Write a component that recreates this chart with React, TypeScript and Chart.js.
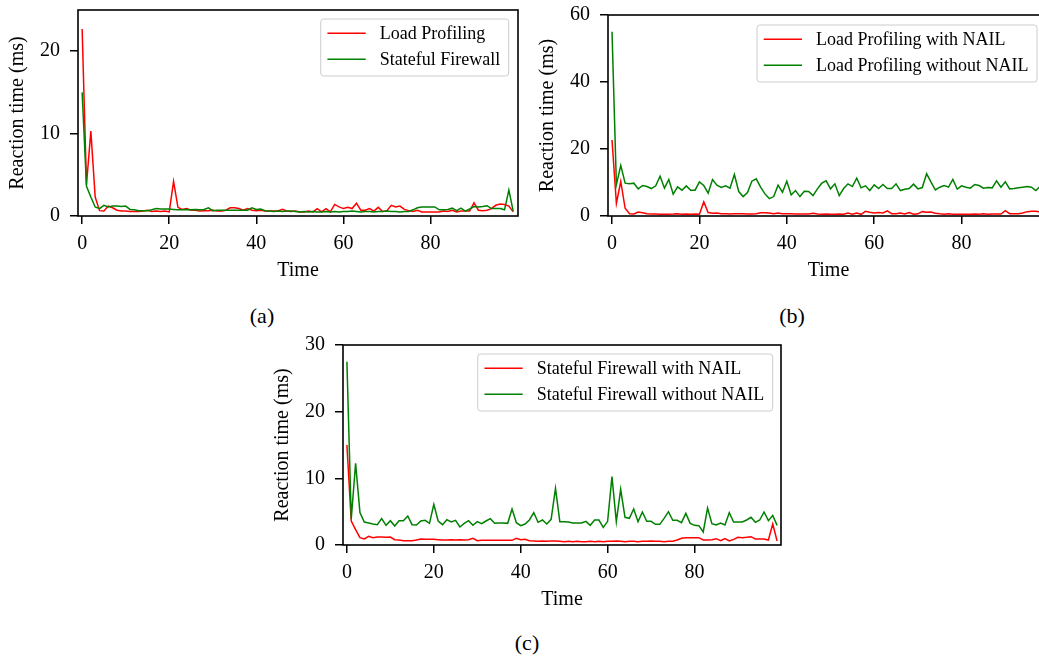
import React, { useEffect, useRef } from "react";
import { Chart, registerables } from "chart.js";

Chart.register(...registerables);

const TIME: number[] = Array.from({ length: 100 }, (_, i) => i);

const LOAD_PROFILING = [
  22.7, 3.8, 10.3, 2.3, 0.65, 0.6, 1.2, 1.0, 0.7, 0.6,
  0.6, 0.55, 0.55, 0.55, 0.6, 0.7, 0.55, 0.6, 0.55, 0.6,
  0.5, 4.2, 1.05, 0.8, 0.9, 0.7, 0.7, 0.6, 0.65, 0.65,
  0.7, 0.6, 0.6, 0.7, 1.0, 1.0, 0.9, 0.7, 0.9, 0.7,
  0.65, 0.7, 0.6, 0.6, 0.6, 0.6, 0.8, 0.6, 0.55, 0.6,
  0.5, 0.5, 0.6, 0.5, 0.9, 0.5, 0.9, 0.5, 1.4, 1.1,
  0.9, 1.05, 0.9, 1.55, 0.7, 0.7, 0.9, 0.6, 1.05, 0.55,
  0.65, 1.3, 1.1, 1.2, 0.8, 0.65, 0.55, 0.7, 0.5, 0.5,
  0.5, 0.5, 0.5, 0.6, 0.55, 0.7, 0.5, 0.6, 0.6, 0.6,
  1.6, 0.7, 0.65, 0.7, 0.9, 1.3, 1.45, 1.4, 1.2, 0.5,
];

const STATEFUL_FIREWALL = [
  15, 3.6, 2.3, 1.1, 0.9, 1.3, 1.1, 1.2, 1.2, 1.15,
  1.2, 0.8, 0.75, 0.65, 0.65, 0.65, 0.75, 0.9, 0.85, 0.85,
  0.85, 0.8, 0.75, 0.75, 0.8, 0.75, 0.8, 0.75, 0.8, 1.0,
  0.65, 0.7, 0.7, 0.7, 0.7, 0.7, 0.7, 0.7, 0.7, 1.0,
  0.8, 0.85, 0.65, 0.6, 0.55, 0.6, 0.55, 0.6, 0.6, 0.55,
  0.5, 0.55, 0.5, 0.55, 0.5, 0.5, 0.55, 0.5, 0.55, 0.5,
  0.55, 0.55, 0.6, 0.55, 0.5, 0.55, 0.55, 0.5, 0.55, 0.55,
  0.6, 0.55, 0.55, 0.5, 0.55, 0.55, 0.75, 1.0, 1.1, 1.1,
  1.1, 1.1, 0.75, 0.75, 0.8, 0.95, 0.65, 0.95, 0.6, 0.85,
  1.15, 1.1, 1.15, 1.25, 0.9, 0.9, 0.9, 0.75, 3.15, 0.6,
];

const LOAD_PROFILING_WITHOUT_NAIL = [
  55, 9.3, 15.1, 9.8, 9.6, 9.8, 8.1, 9.1, 8.8, 8.2,
  9.0, 11.9, 8.3, 10.9, 6.5, 8.7, 7.7, 9.0, 7.7, 7.7,
  10.2, 9.1, 6.8, 10.9, 9.2, 8.5, 9.0, 8.3, 12.4, 7.3,
  5.8, 7.0, 10.4, 11.1, 8.6, 6.6, 5.2, 5.8, 9.2, 7.1,
  10.4, 6.3, 7.6, 5.8, 7.4, 7.3, 6.1, 8.1, 9.8, 10.5,
  8.1, 9.6, 6.1, 8.2, 9.6, 8.8, 11.3, 8.4, 9.0, 7.6,
  9.3, 8.2, 9.4, 8.2, 8.2, 9.6, 7.6, 8.0, 8.2, 9.5,
  8.1, 8.5, 12.6, 10.1, 7.8, 8.6, 9.1, 8.6, 10.9, 8.0,
  9.0, 8.6, 8.3, 9.4, 9.1, 8.3, 8.5, 8.4, 10.5, 8.6,
  10.2, 8.1, 8.2, 8.4, 8.6, 8.8, 8.6, 7.6, 8.9, 9.0,
];

const STATEFUL_FIREWALL_WITHOUT_NAIL = [
  27.5, 3.9, 12.25, 4.85, 3.45, 3.3, 3.15, 3.05, 3.95, 2.95,
  3.65, 2.85, 3.65, 3.65, 4.35, 3.05, 3.0, 3.6, 3.7, 3.25,
  6.1, 3.6, 3.05, 3.8, 3.45, 3.7, 2.7, 3.25, 3.65, 2.95,
  3.5, 3.2, 3.6, 3.95, 3.25, 3.3, 3.3, 3.25, 5.4, 3.35,
  2.9, 3.15, 3.75, 4.85, 3.4, 3.75, 3.15, 3.85, 8.5, 3.5,
  3.5, 3.45, 3.3, 3.3, 3.3, 3.55, 2.95, 3.75, 3.75, 2.65,
  3.55, 10.25, 3.5, 8.35, 4.15, 4.0, 5.4, 3.5, 4.95, 3.55,
  3.55, 3.1, 3.1, 4.0, 5.0, 3.7, 3.7, 3.35, 4.75, 3.25,
  2.95, 2.9, 1.95, 5.55, 3.2, 3.0, 3.3, 3.0, 4.85, 3.45,
  3.45, 3.45, 3.75, 4.15, 3.4, 3.75, 4.95, 3.65, 4.45, 2.95,
];

const X_TICKS = [0, 20, 40, 60, 80];
const Y_TICKS_A = [0, 10, 20];
const Y_TICKS_B = [0, 20, 40, 60];
const Y_TICKS_C = [0, 10, 20, 30];

const X_TITLE = "Time";
const Y_TITLE = "Reaction time (ms)";

const RED = "#ff0000";
const GREEN = "#008000";
const SERIF = '"Liberation Serif", "DejaVu Serif", serif';

type Series = { label: string; data: number[]; color: string; order: number };

const framePlugin = {
  id: "frame",
  afterDraw(chart: any) {
    const { ctx, chartArea } = chart;
    ctx.save();
    ctx.strokeStyle = "#000";
    ctx.lineWidth = 1.6;
    ctx.strokeRect(chartArea.left, chartArea.top, chartArea.right - chartArea.left, chartArea.bottom - chartArea.top);
    ctx.restore();
  },
};

const legendPlugin = {
  id: "panelLegend",
  afterDraw(chart: any, _args: any, opts: any) {
    const { ctx, chartArea } = chart;
    const items = chart.data.datasets;
    ctx.save();
    ctx.font = `18px ${SERIF}`;
    const textW = Math.max(...items.map((d: any) => ctx.measureText(d.label).width));
    const padL = 6.7, handle = 38.3, gap = 14, padR = 8.5;
    const w = padL + handle + gap + textW + padR;
    const h = 57;
    const x = chartArea.right - opts.right - w;
    const y = chartArea.top + opts.top;
    ctx.beginPath();
    ctx.roundRect(x, y, w, h, 3);
    ctx.fillStyle = "rgba(255,255,255,0.8)";
    ctx.fill();
    ctx.strokeStyle = "#cccccc";
    ctx.lineWidth = 1;
    ctx.stroke();
    items.forEach((d: any, i: number) => {
      const cy = y + 14.3 + i * 26;
      ctx.beginPath();
      ctx.moveTo(x + padL, cy);
      ctx.lineTo(x + padL + handle, cy);
      ctx.strokeStyle = d.borderColor;
      ctx.lineWidth = 1.5;
      ctx.stroke();
      ctx.fillStyle = "#000";
      ctx.textBaseline = "middle";
      ctx.textAlign = "left";
      ctx.fillText(d.label, x + padL + handle + gap, cy + 1);
    });
    ctx.restore();
  },
};

type PanelProps = {
  left: number; top: number; width: number; height: number;
  padTop: number; padRight: number;
  xMin: number; xMax: number; yMax: number; yTicks: number[];
  series: Series[]; legendRight: number; legendTop: number;
};

function Panel(p: PanelProps) {
  const ref = useRef<HTMLCanvasElement>(null);
  useEffect(() => {
    const font = { family: SERIF, size: 20 };
    const chart = new Chart(ref.current as HTMLCanvasElement, {
      type: "line",
      data: {
        datasets: p.series.map((s) => ({
          label: s.label,
          data: TIME.map((t, i) => ({ x: t, y: s.data[i] })),
          borderColor: s.color,
          backgroundColor: s.color,
          borderWidth: 1.5,
          pointRadius: 0,
          tension: 0,
          fill: false,
          order: s.order,
        })),
      },
      options: {
        animation: false,
        responsive: false,
        devicePixelRatio: 1,
        layout: { padding: { top: p.padTop, right: p.padRight, left: 0, bottom: 7 } },
        plugins: {
          legend: { display: false },
          tooltip: { enabled: false },
          panelLegend: { right: p.legendRight, top: p.legendTop },
        } as any,
        scales: {
          x: {
            type: "linear",
            min: p.xMin,
            max: p.xMax,
            afterBuildTicks: (s: any) => { s.ticks = X_TICKS.map((v) => ({ value: v })); },
            afterFit: (s: any) => { s.height = 67; s.paddingLeft = 0; s.paddingRight = 0; },
            grid: { display: true, drawOnChartArea: false, drawTicks: true, tickLength: 8, color: "#000", lineWidth: 1.5 },
            border: { display: false },
            ticks: { color: "#000", font, padding: 8, maxRotation: 0, autoSkip: false },
            title: { display: true, text: X_TITLE, color: "#000", font, padding: { top: 0, bottom: 0 } },
          },
          y: {
            type: "linear",
            min: 0,
            max: p.yMax,
            afterBuildTicks: (s: any) => { s.ticks = p.yTicks.map((v) => ({ value: v })); },
            afterFit: (s: any) => { s.width = 78; s.paddingTop = 0; s.paddingBottom = 0; },
            grid: { display: true, drawOnChartArea: false, drawTicks: true, tickLength: 8, color: "#000", lineWidth: 1.5 },
            border: { display: false },
            ticks: { color: "#000", font, padding: 10, autoSkip: false },
            title: { display: true, text: Y_TITLE, color: "#000", font, padding: { top: 6, bottom: 0 } },
          },
        },
      } as any,
      plugins: [framePlugin, legendPlugin],
    });
    return () => chart.destroy();
  }, []);
  return (
    <canvas
      ref={ref}
      width={p.width}
      height={p.height}
      style={{ position: "absolute", left: p.left, top: p.top, width: p.width, height: p.height }}
    />
  );
}

const captionStyle = (x: number, y: number): React.CSSProperties => ({
  position: "absolute",
  left: x,
  top: y,
  transform: "translate(-50%, -50%)",
  fontFamily: SERIF,
  fontSize: 22,
  lineHeight: 1,
  color: "#000",
  whiteSpace: "nowrap",
});

export default function App() {
  return (
    <div style={{ position: "absolute", left: 0, top: 0, width: 1039, height: 660, overflow: "hidden", background: "#fff" }}>
      <Panel
        left={0} top={0} width={530} height={290} padTop={10} padRight={12}
        xMin={-0.95} xMax={100.1} yMax={25} yTicks={Y_TICKS_A}
        legendRight={9.3} legendTop={9}
        series={[
          { label: "Load Profiling", data: LOAD_PROFILING, color: RED, order: 1 },
          { label: "Stateful Firewall", data: STATEFUL_FIREWALL, color: GREEN, order: 0 },
        ]}
      />
      <Panel
        left={530} top={0} width={531} height={290} padTop={15} padRight={12}
        xMin={-0.92} xMax={100} yMax={60} yTicks={Y_TICKS_B}
        legendRight={12} legendTop={10}
        series={[
          { label: "Load Profiling with NAIL", data: LOAD_PROFILING, color: RED, order: 1 },
          { label: "Load Profiling without NAIL", data: LOAD_PROFILING_WITHOUT_NAIL, color: GREEN, order: 0 },
        ]}
      />
      <Panel
        left={265} top={330} width={528} height={289} padTop={15} padRight={12}
        xMin={-0.9} xMax={99.9} yMax={30} yTicks={Y_TICKS_C}
        legendRight={8.3} legendTop={9}
        series={[
          { label: "Stateful Firewall with NAIL", data: STATEFUL_FIREWALL, color: RED, order: 1 },
          { label: "Stateful Firewall without NAIL", data: STATEFUL_FIREWALL_WITHOUT_NAIL, color: GREEN, order: 0 },
        ]}
      />
      <div style={captionStyle(262, 316)}>(a)</div>
      <div style={captionStyle(792, 316)}>(b)</div>
      <div style={captionStyle(527, 643)}>(c)</div>
    </div>
  );
}
